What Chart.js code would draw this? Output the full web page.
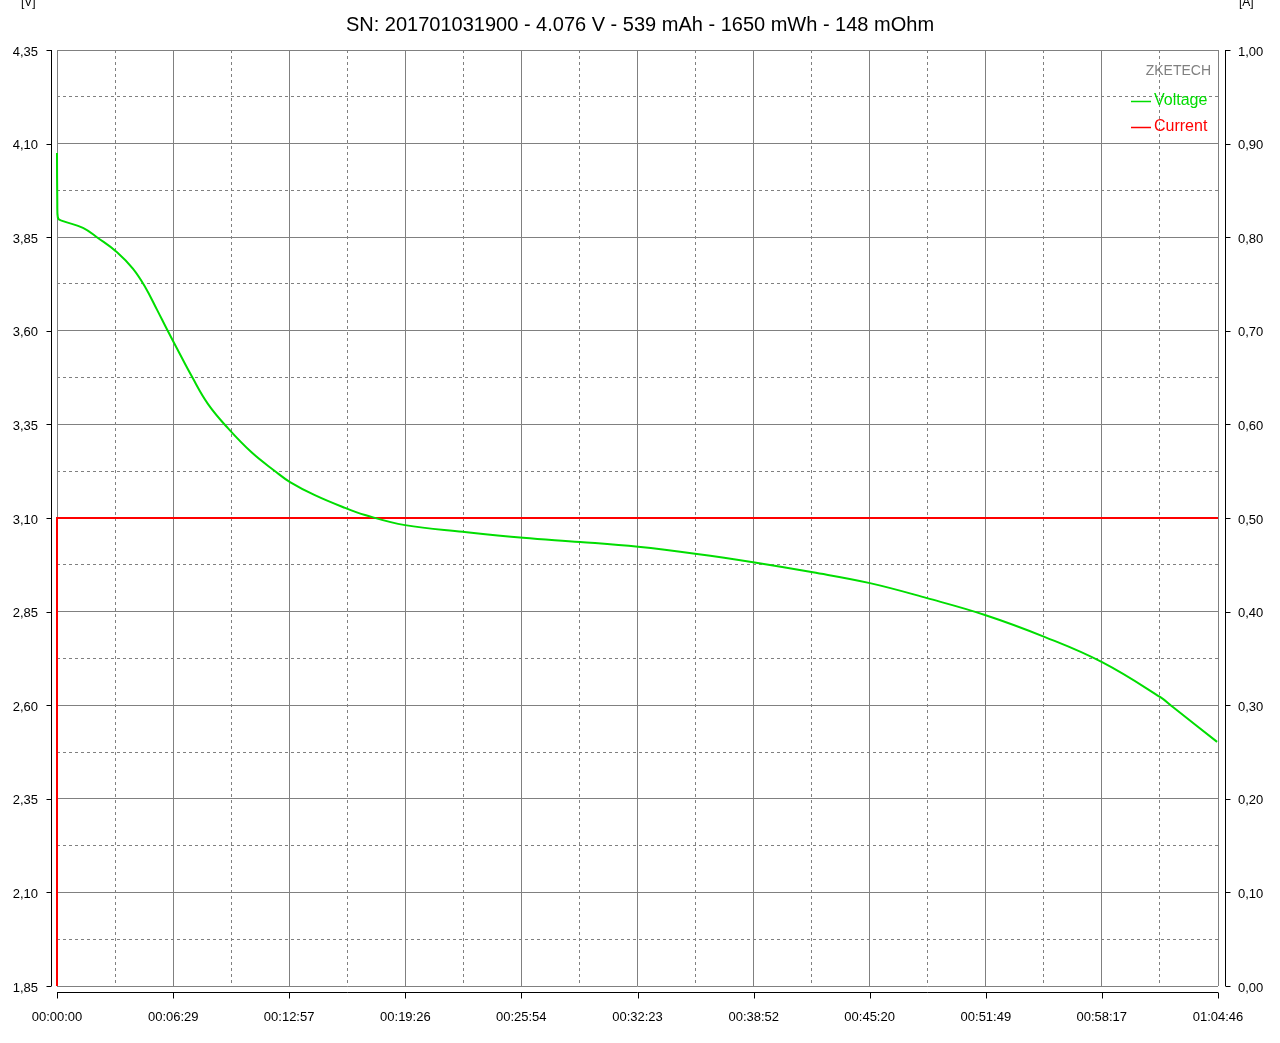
<!DOCTYPE html>
<html lang="en">
<head>
<meta charset="UTF-8">
<title>ZKETECH - descarga</title>
<style>
  html, body { margin: 0; padding: 0; background: #fff; }
  #wrap { width: 1280px; height: 1043px; }
</style>
</head>
<body>
<div id="wrap"><canvas id="grafico"></canvas></div>
<script src="https://cdn.jsdelivr.net/npm/chart.js"></script>
<script>
// tempo em segundos, tensão em V
const tempoV = [0, 1, 3, 20, 87, 137, 201, 254, 295, 335, 368, 402, 452, 505, 572, 653, 730, 780, 863, 964, 1031,
  1165, 1359, 1560, 1751, 1945, 2142, 2330, 2530, 2721, 2912, 3106, 3307, 3498, 3692, 3735, 3883];
const tensao = [4.075, 3.941, 3.901, 3.893, 3.875, 3.848, 3.810, 3.766, 3.717, 3.656, 3.604, 3.552, 3.477, 3.405, 3.340, 3.274, 3.225, 3.196, 3.161, 3.127, 3.108,
  3.081, 3.063, 3.047, 3.036, 3.023, 3.004, 2.982, 2.955, 2.926, 2.886, 2.841, 2.782, 2.715, 2.622, 2.595, 2.502];
// corrente em A
const tempoA = [0, 0, 3886];
const corrente = [0, 0.50, 0.50];

// marcas dos eixos
const ticksTempo = [0, 389, 777, 1166, 1554, 1943, 2332, 2720, 3109, 3497, 3886];
const ticksTensao = [1.85, 2.10, 2.35, 2.60, 2.85, 3.10, 3.35, 3.60, 3.85, 4.10, 4.35];
const ticksCorrente = [0, 0.10, 0.20, 0.30, 0.40, 0.50, 0.60, 0.70, 0.80, 0.90, 1.00];

const titulo = 'SN: 201701031900 - 4.076 V - 539 mAh - 1650 mWh - 148 mOhm';
const fonte = '"Liberation Sans", Arial, sans-serif';
const verde = '#00dd00';
const vermelho = '#ff0000';
const cinza = '#808080';

// major + meio (tracejado)
function comMeios(lista) {
  const out = [];
  lista.forEach((v, i) => {
    out.push({ value: v });
    if (i < lista.length - 1) out.push({ value: (v + lista[i + 1]) / 2, minor: true });
  });
  return out;
}

function hms(seg) {
  const s = Math.round(seg);
  const h = Math.floor(s / 3600), m = Math.floor((s % 3600) / 60), r = s % 60;
  return [h, m, r].map(n => String(n).padStart(2, '0')).join(':');
}

const ehMenor = ctx => ctx.tick && ctx.tick.minor;

// linhas dos eixos deslocadas, unidades e legenda
const eixos = {
  id: 'eixos',
  afterDraw(chart) {
    const c = chart.ctx, a = chart.chartArea;
    const sx = chart.scales.x, sy = chart.scales.y, sy1 = chart.scales.y1;
    c.save();
    c.strokeStyle = '#000';
    c.lineWidth = 1;
    c.beginPath();
    const xl = Math.round(a.left) - 6 + 0.5;
    c.moveTo(xl, a.top); c.lineTo(xl, a.bottom);
    sy.ticks.forEach((t, i) => {
      if (t.minor) return;
      const p = Math.round(sy.getPixelForTick(i)) + 0.5;
      c.moveTo(xl - 5, p); c.lineTo(xl, p);
    });
    const xr = Math.round(a.right) + 7 + 0.5;
    c.moveTo(xr, a.top); c.lineTo(xr, a.bottom);
    sy1.ticks.forEach((t, i) => {
      if (t.minor) return;
      const p = Math.round(sy1.getPixelForTick(i)) + 0.5;
      c.moveTo(xr, p); c.lineTo(xr + 5, p);
    });
    const yb = Math.round(a.bottom) + 6 + 0.5;
    c.moveTo(a.left, yb); c.lineTo(a.right, yb);
    sx.ticks.forEach((t, i) => {
      if (t.minor) return;
      const p = Math.round(sx.getPixelForTick(i)) + 0.5;
      c.moveTo(p, yb); c.lineTo(p, yb + 6);
    });
    c.stroke();

    c.font = '12px ' + fonte;
    c.fillStyle = '#000';
    c.textBaseline = 'middle';
    c.textAlign = 'left';
    c.fillText('[V]', 21, 3);
    c.fillText('[A]', 1239, 3);

    // legenda
    c.textAlign = 'right';
    c.font = '14px ' + fonte;
    c.fillStyle = cinza;
    c.fillText('ZKETECH', a.right - 7, 71);
    c.font = '16px ' + fonte;
    chart.data.datasets.forEach((ds, i) => {
      const y = 101 + i * 26;
      c.fillStyle = ds.borderColor;
      c.textAlign = 'left';
      c.fillText(ds.label, 1154, y);
      c.strokeStyle = ds.borderColor;
      c.lineWidth = 1.5;
      c.beginPath();
      c.moveTo(1131, y + 0.5); c.lineTo(1151, y + 0.5);
      c.stroke();
    });
    c.restore();
  }
};

new Chart(document.getElementById('grafico'), {
  type: 'line',
  data: {
    datasets: [{
      label: 'Voltage',
      data: tempoV.map((t, i) => ({ x: t, y: tensao[i] })),
      borderColor: verde,
      borderWidth: 2,
      pointRadius: 0,
      tension: 0.4,
      clip: false,
      yAxisID: 'y'
    }, {
      label: 'Current',
      data: tempoA.map((t, i) => ({ x: t, y: corrente[i] })),
      borderColor: vermelho,
      borderWidth: 2,
      pointRadius: 0,
      tension: 0,
      clip: false,
      yAxisID: 'y1'
    }]
  },
  options: {
    responsive: true,
    maintainAspectRatio: false,
    animation: false,
    layout: { padding: 0 },
    plugins: {
      legend: { display: false },
      tooltip: { enabled: false },
      title: {
        display: true,
        text: titulo,
        color: '#000',
        font: { family: fonte, size: 20, weight: 'normal' },
        padding: { top: 13, bottom: 13 }
      }
    },
    scales: {
      x: {
        type: 'linear',
        min: 0,
        max: 3886,
        afterBuildTicks: s => { s.ticks = comMeios(ticksTempo); },
        afterFit: s => { s.height = 57; },
        border: { display: false, dash: ctx => ehMenor(ctx) ? [3, 3] : [] },
        grid: { color: cinza, lineWidth: 1, drawTicks: false },
        ticks: {
          autoSkip: false,
          maxRotation: 0,
          padding: 24,
          color: '#000',
          font: { family: fonte, size: 13 },
          callback: (v, i, arr) => arr[i].minor ? '' : hms(v)
        }
      },
      y: {
        position: 'left',
        min: 1.85,
        max: 4.35,
        afterBuildTicks: s => { s.ticks = comMeios(ticksTensao); },
        afterFit: s => { s.width = 57; },
        border: { display: false, dash: ctx => ehMenor(ctx) ? [3, 3] : [] },
        grid: { color: cinza, lineWidth: 1, drawTicks: false },
        ticks: {
          autoSkip: false,
          padding: 19,
          labelOffset: 2,
          color: '#000',
          font: { family: fonte, size: 13 },
          callback: (v, i, arr) => arr[i].minor ? '' : v.toFixed(2).replace('.', ',')
        }
      },
      y1: {
        position: 'right',
        min: 0,
        max: 1,
        afterBuildTicks: s => { s.ticks = ticksCorrente.map(v => ({ value: v })); },
        afterFit: s => { s.width = 62; },
        border: { display: false },
        grid: { display: true, drawOnChartArea: false, drawTicks: false },
        ticks: {
          autoSkip: false,
          padding: 20,
          labelOffset: 2,
          color: '#000',
          font: { family: fonte, size: 13 },
          callback: v => v.toFixed(2).replace('.', ',')
        }
      }
    }
  },
  plugins: [eixos]
});
</script>
</body>
</html>
